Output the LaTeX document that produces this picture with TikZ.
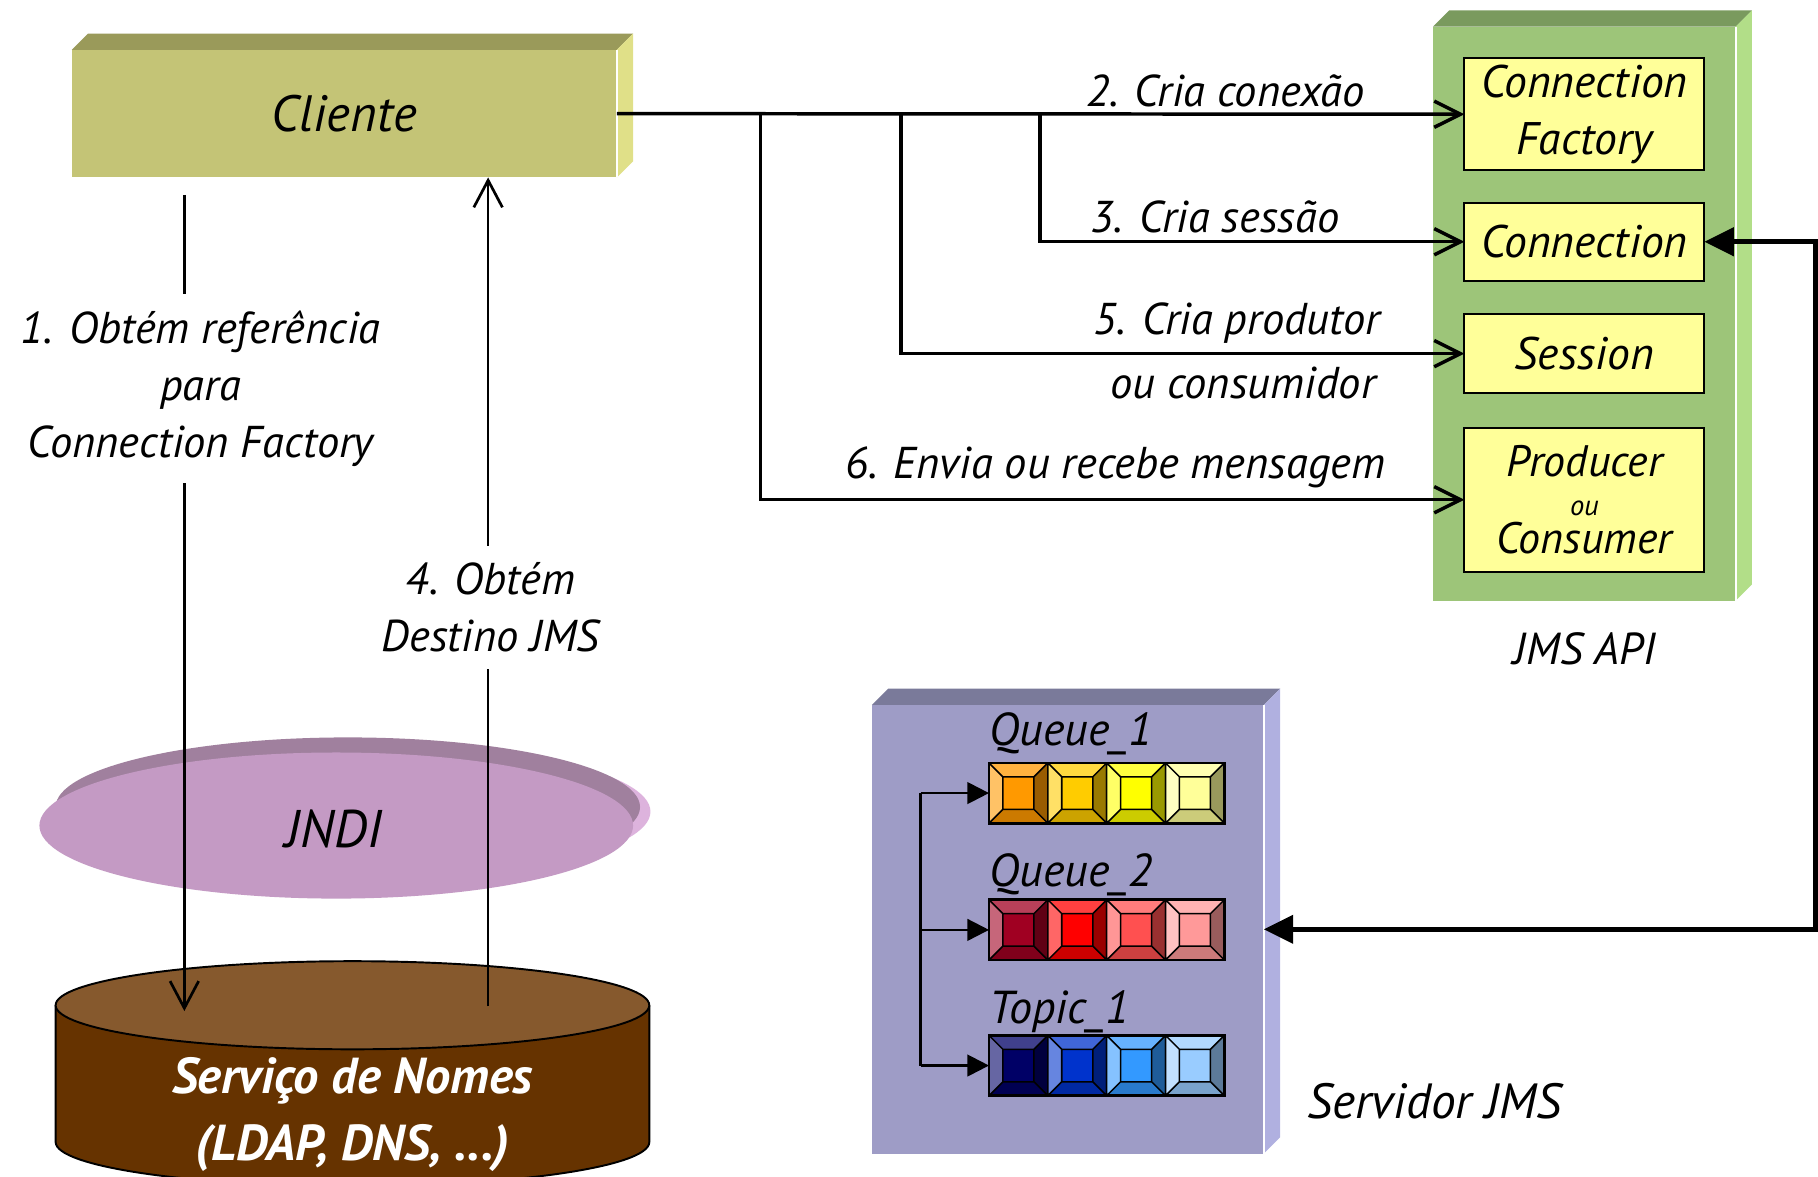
\documentclass[tikz,border=0pt]{standalone}
\usepackage{fontspec}
\setmainfont{PT Sans}
\usetikzlibrary{arrows.meta}

\definecolor{cliFront}{HTML}{C4C476}
\definecolor{cliTop}{HTML}{9A9A5A}
\definecolor{cliSide}{HTML}{E0E088}
\definecolor{apiFront}{HTML}{9DC579}
\definecolor{apiTop}{HTML}{7A9A5E}
\definecolor{apiSide}{HTML}{B2DE88}
\definecolor{srvFront}{HTML}{9E9CC6}
\definecolor{srvTop}{HTML}{7A7A9A}
\definecolor{srvSide}{HTML}{B0B0E0}
\definecolor{boxYellow}{HTML}{FFFF99}
\definecolor{jndiFront}{HTML}{C49AC4}
\definecolor{jndiBack}{HTML}{A0809E}
\definecolor{jndiRim}{HTML}{DDB3DD}
\definecolor{dnsTop}{HTML}{86592D}
\definecolor{dnsBody}{HTML}{663300}
% queue and topic cells
\definecolor{qa}{HTML}{FF9900}
\definecolor{qb}{HTML}{FFCC00}
\definecolor{qc}{HTML}{FFFF00}
\definecolor{qd}{HTML}{FFFF99}
\definecolor{ra}{HTML}{A00022}
\definecolor{rb}{HTML}{FF0000}
\definecolor{rc}{HTML}{FF5050}
\definecolor{rd}{HTML}{FF9999}
\definecolor{ta}{HTML}{000066}
\definecolor{tb}{HTML}{0033CC}
\definecolor{tc}{HTML}{3399FF}
\definecolor{td}{HTML}{99CCFF}

% top and right face of a flat box
\newcommand{\boxsides}[3]{%
  \fill[#2] (#1.north west) -- ++(14,-14) -- ([shift={(14,-14)}]#1.north east) -- (#1.north east) -- cycle;
  \fill[#3] (#1.north east) -- ++(14,-14) -- ([shift={(14,-14)}]#1.south east) -- (#1.south east) -- cycle;
  \draw[white, line width=0.3mm] (#1.north east) -- (#1.south east);}

% one bevelled message cell
\newcommand{\bevcell}[3]{%
  \begin{scope}[shift={(#1,#2)}]
    \fill[#3!75!white] (0,0) -- (50.75,0) -- (38.75,12) -- (12,12) -- cycle;
    \fill[#3!60!white] (0,0) -- (12,12) -- (12,40) -- (0,52) -- cycle;
    \fill[#3!60!black] (50.75,0) -- (38.75,12) -- (38.75,40) -- (50.75,52) -- cycle;
    \fill[#3!80!black] (0,52) -- (12,40) -- (38.75,40) -- (50.75,52) -- cycle;
    \fill[#3] (12,12) rectangle (38.75,40);
    \draw[cellline] (0,0) rectangle (50.75,52) (12,12) rectangle (38.75,40)
      (0,0) -- (12,12) (50.75,0) -- (38.75,12) (0,52) -- (12,40) (50.75,52) -- (38.75,40);
  \end{scope}}

\tikzset{
  block/.style={draw=none, inner sep=0pt, outer sep=0pt},
  apibox/.style={draw=black, line width=0.25mm, fill=boxYellow, inner sep=0pt, outer sep=0pt,
    minimum width=31.05mm, align=center, font=\fontsize{16.8}{21}\selectfont\itshape},
  lbl/.style={align=center, inner sep=2pt, font=\fontsize{16.4}{21}\selectfont\itshape},
  qrow/.style={draw=none, inner sep=0pt, outer sep=0pt, minimum width=30.45mm, minimum height=7.8mm},
  cellline/.style={draw=black, line width=0.2mm},
  link/.style={line width=0.45mm, -{Straight Barb[length=3.4mm, width=3.4mm]}},
  look/.style={line width=0.35mm},
  fb/.style={line width=0.65mm, {Triangle[length=3.8mm, width=3.6mm]}-{Triangle[length=3.8mm, width=3.6mm]}},
  brline/.style={line width=0.3mm}
}

\begin{document}
\begin{tikzpicture}[x=0.15mm, y=-0.15mm]
\useasboundingbox (0,0) rectangle (1568,1015);
\fill[white] (0,0) rectangle (1568,1015);

% JMS API
\node[block, fill=apiFront, minimum width=39.15mm, minimum height=74.25mm] (api) at (1366.5,270.5) {};
\boxsides{api}{apiTop}{apiSide}
\node[apibox, minimum height=14.55mm] (cf) at (1366.5,98.5) {Connection\\Factory};
\node[apibox, minimum height=10.05mm] (conn) at (1366.5,208.5) {Connection};
\node[apibox, minimum height=10.2mm] (sess) at (1366.5,305) {Session};
\node[apibox, minimum height=18.6mm, font=\fontsize{16.2}{14.2}\selectfont\itshape] (prod) at (1366.5,431)
  {Producer\\{\fontsize{10.5}{14.2}\selectfont ou}\\Consumer};
\node[lbl, font=\fontsize{16.5}{20}\selectfont\itshape] (apiname) at (1367,560) {JMS API};

% Cliente
\node[block, fill=cliFront, minimum width=70.5mm, minimum height=16.5mm,
  font=\fontsize{18.8}{22}\selectfont\itshape] (cli) at (297,98) {Cliente};
\boxsides{cli}{cliTop}{cliSide}

% Servidor JMS
\node[block, fill=srvFront, minimum width=50.7mm, minimum height=58.05mm] (srv) at (921,801.5) {};
\boxsides{srv}{srvTop}{srvSide}
\node[lbl, font=\fontsize{18.2}{22}\selectfont\itshape] (srvname) at (1237,950) {Servidor JMS};

\node[qrow] (q1) at (954.5,684) {};
\node[qrow] (q2) at (954.5,802) {};
\node[qrow] (t1) at (954.5,919) {};
\foreach \c [count=\i from 0] in {qa,qb,qc,qd} {\bevcell{853+50.75*\i}{658}{\c}}
\foreach \c [count=\i from 0] in {ra,rb,rc,rd} {\bevcell{853+50.75*\i}{776}{\c}}
\foreach \c [count=\i from 0] in {ta,tb,tc,td} {\bevcell{853+50.75*\i}{893}{\c}}
\foreach \r in {q1,q2,t1} \draw[line width=0.35mm] (\r.north west) rectangle (\r.south east);
\node[lbl, anchor=base west, inner sep=0pt, font=\fontsize{17}{20}\selectfont\itshape] (q1name) at (853,643) {Queue\_1};
\node[lbl, anchor=base west, inner sep=0pt, font=\fontsize{17}{20}\selectfont\itshape] (q2name) at (853,765) {Queue\_2};
\node[lbl, anchor=base west, inner sep=0pt, font=\fontsize{17}{20}\selectfont\itshape] (t1name) at (853,883) {Topic\_1};

\coordinate (bk) at (794,0);
\draw[brline] (bk |- q1.west) -- (bk |- t1.west);
\foreach \r in {q1,q2,t1}
  \draw[brline, -{Triangle[length=2.8mm, width=2.8mm]}] (bk |- \r.west) -- (\r.west);

% JNDI
\fill[jndiRim] (305,700) ellipse [x radius=38.4mm, y radius=9mm];
\fill[jndiBack] (300,696) ellipse [x radius=37.8mm, y radius=9mm];
\fill[jndiFront] (290,712) ellipse [x radius=38.4mm, y radius=9.45mm];
\node[lbl, font=\fontsize{19.5}{22}\selectfont\itshape] (jndi) at (288,715) {JNDI};

% Servico de Nomes
\fill[dnsBody] (48,867) -- (48,985) arc [start angle=180, end angle=360, x radius=38.4mm, y radius=5.7mm] -- (560,867) -- cycle;
\draw[line width=0.25mm] (48,867) -- (48,985) arc [start angle=180, end angle=360, x radius=38.4mm, y radius=5.7mm] -- (560,867);
\filldraw[line width=0.25mm, fill=dnsTop] (304,867) ellipse [x radius=38.4mm, y radius=5.7mm];
\node[lbl, text=white, font=\fontsize{18.6}{24.7}\selectfont\bfseries\itshape] (dns) at (304,961)
  {Serviço de Nomes\\(LDAP, DNS, ...)};

% labels of the steps
\node[lbl] (l2) at (1057,78) {2. Cria conexão};
\node[lbl] (l3) at (1048,187) {3. Cria sessão};
\node[lbl] (l5) at (1067,279) {5. Cria produtor};
\node[lbl] (l5b) at (1072,330) {ou consumidor};
\node[lbl] (l6) at (962,403) {6. Envia ou recebe mensagem};
\node[lbl, inner ysep=6pt] (l1) at (173,335) {1. Obtém referência\\para\\Connection Factory};
\node[lbl, inner ysep=6pt] (l4) at (423,524) {4. Obtém\\Destino JMS};

% connectors
\coordinate (b1) at (656,98);
\coordinate (b2) at (777,98);
\coordinate (b3) at (897,98);
\draw[link] (cli.east) -- (cf.west);
\draw[link] (b3) |- (conn.west);
\draw[link] (b2) |- (sess.west);
\draw[link] (b1) |- (prod.west);

\coordinate (fbx) at (1566,0);
\draw[fb] (conn.east) -- (conn.east -| fbx) -- (srv.east -| fbx) -- (srv.east);

\coordinate (s1) at (159,168);
\coordinate (e1) at (159,872);
\draw[look] (s1) -- (s1 |- l1.north);
\draw[look, -{Straight Barb[length=3.5mm, width=3.7mm]}] (s1 |- l1.south) -- (e1);

\coordinate (s4) at (421,868);
\draw[look] (s4) -- (s4 |- l4.south);
\draw[look, -{Straight Barb[length=3.5mm, width=3.7mm]}] (s4 |- l4.north) -- (s4 |- cli.south);
\end{tikzpicture}
\end{document}
